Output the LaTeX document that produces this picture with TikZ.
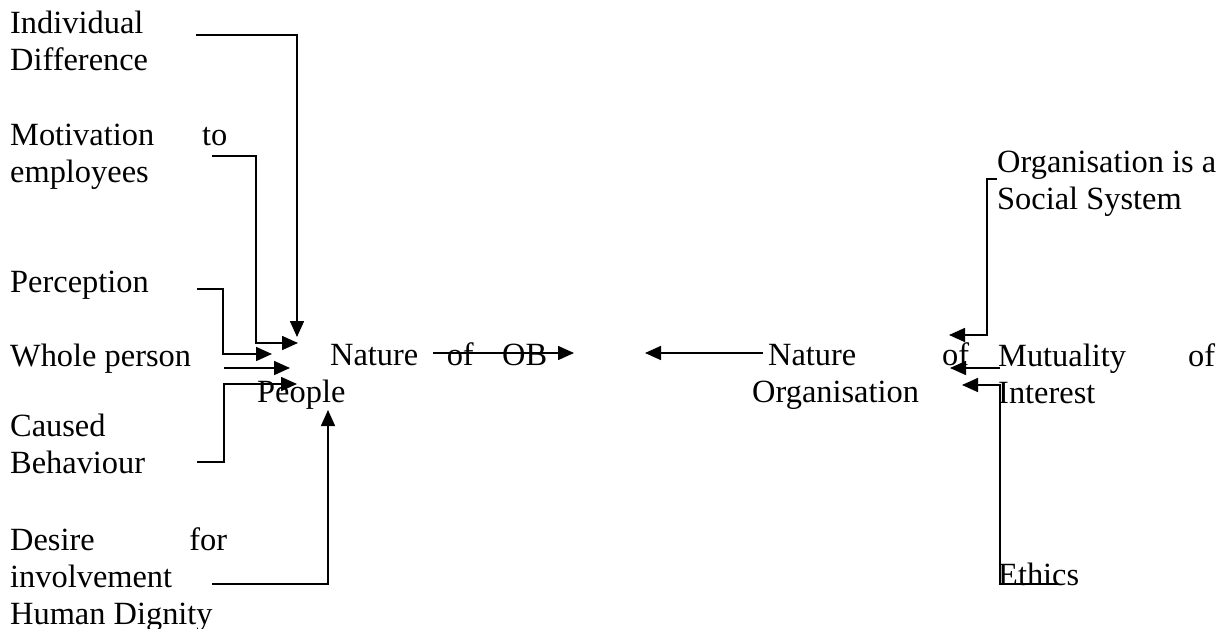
\documentclass[tikz,border=0pt]{standalone}
\usepackage{fontspec}
\setmainfont{Liberation Serif}
\usetikzlibrary{arrows.meta}
\begin{document}
\begin{tikzpicture}[x=1pt,y=-1pt,
  txt/.style={anchor=base west,inner sep=0pt,align=left,
    font=\fontsize{32.4}{37}\selectfont},
  arr/.style={line width=1.6pt,-{Triangle[length=16pt,width=14pt]}}]
\useasboundingbox (0,0) rectangle (1226,629);

% ---- left column: aspects of people (placed at the baseline of the last line)
\node[txt] (ind)    at (10,70)  {Individual\\Difference};
\node[txt] (mot)    at (10,182) {\makebox[217pt][s]{Motivation to}\\employees};
\node[txt] (per)    at (10,292) {Perception};
\node[txt] (whole)  at (10,366) {Whole person};
\node[txt] (caused) at (10,473) {Caused\\Behaviour};
\node[txt] (desire) at (10,624) {\makebox[217pt][s]{Desire for}\\involvement\\Human Dignity};

% ---- centre
\node[txt] (natob)  at (330,365) {\makebox[217pt][s]{Nature of OB}};
\node[txt] (people) at (257,402) {People};
\node[txt] (natof)  at (768,365) {\makebox[201pt][s]{Nature of}};
\node[txt] (org)    at (752,402) {Organisation};

% ---- right column: aspects of the organisation
\node[txt] (orgsoc) at (997,209) {Organisation is a\\Social System};
\node[txt] (mutual) at (998,403) {\makebox[217pt][s]{Mutuality of}\\Interest};
\node[txt] (ethics) at (998,585) {Ethics};

% connector end points
\coordinate (indS) at (196,35);   \coordinate (indT) at (297,337);
\coordinate (motS) at (212,156);  \coordinate (motB) at (256,343);  \coordinate (motT) at (298,343);
\coordinate (perS) at (197,289);  \coordinate (perB) at (223,354);  \coordinate (perT) at (272,354);
\coordinate (whoS) at (224,368);  \coordinate (whoT) at (290,368);
\coordinate (cauS) at (197,462);  \coordinate (cauB) at (224,384);  \coordinate (cauT) at (297,384);
\coordinate (desS) at (212,584);  \coordinate (desT) at (328,410);
\coordinate (obS)  at (433,353);  \coordinate (obT)  at (574,353);
\coordinate (noS)  at (763,353);  \coordinate (noT)  at (645,353);
\coordinate (socS) at (997,179);  \coordinate (socB) at (987,335);  \coordinate (socT) at (949,335);
\coordinate (mutS) at (1000,368); \coordinate (mutT) at (950,368);
\coordinate (ethS) at (1058,584); \coordinate (ethB) at (1000,385); \coordinate (ethT) at (962,385);

% connectors into "Nature of People"
\draw[arr] (indS) -| (indT);
\draw[arr] (motS) -| (motB) -- (motT);
\draw[arr] (perS) -| (perB) -- (perT);
\draw[arr] (whoS) -- (whoT);
\draw[arr] (cauS) -| (cauB) -- (cauT);
\draw[arr] (desS) -| (desT);

% connectors towards OB
\draw[arr] (obS) -- (obT);
\draw[arr] (noS) -- (noT);

% connectors into "Nature of Organisation"
\draw[arr] (socS) -| (socB) -- (socT);
\draw[arr] (mutS) -- (mutT);
\draw[arr] (ethS) -| (ethB) -- (ethT);
\end{tikzpicture}
\end{document}
